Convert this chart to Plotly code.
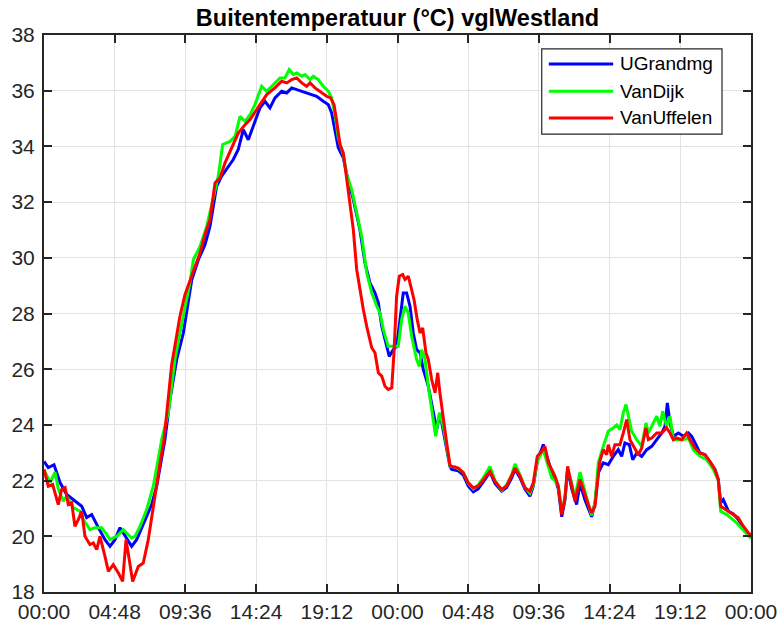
import plotly.graph_objects as go

# ---- data (time in hours since start, temperature in °C) ----
series_names = ["UGrandmg", "VanDijk", "VanUffelen"]
series_colors = ["#0000ff", "#00ff00", "#ff0000"]

hours_ugrandmg = [
    0.00, 0.29, 0.68, 1.09, 1.54, 1.97, 2.56, 2.90, 3.24, 3.69,
    4.14, 4.48, 4.82, 5.16, 5.50, 5.95, 6.29, 6.72, 7.31, 7.65,
    7.99, 8.21, 8.55, 9.01, 9.46, 9.69, 10.03, 10.48, 10.93, 11.27,
    11.72, 12.06, 12.51, 12.85, 13.19, 13.53, 13.87, 14.21, 14.66, 15.00,
    15.34, 15.68, 16.14, 16.48, 16.82, 17.16, 17.50, 17.83, 18.17, 18.51,
    18.96, 19.30, 19.53, 19.76, 19.98, 20.32, 20.55, 21.00, 21.45, 21.79,
    22.13, 22.47, 22.70, 22.93, 23.15, 23.44, 23.71, 23.94, 24.17, 24.39,
    24.62, 24.85, 25.07, 25.30, 25.53, 25.75, 26.09, 26.43, 26.66, 26.88,
    27.22, 27.56, 27.68, 28.13, 28.47, 28.81, 29.15, 29.48, 29.82, 30.28,
    30.62, 31.07, 31.41, 31.75, 31.98, 32.32, 32.65, 32.99, 33.22, 33.49,
    33.90, 34.24, 34.47, 34.69, 34.92, 35.15, 35.37, 35.55, 35.83, 36.16,
    36.39, 36.73, 36.95, 37.18, 37.41, 37.63, 37.97, 38.31, 38.65, 38.99,
    39.22, 39.44, 39.74, 39.97, 40.24, 40.58, 40.92, 41.26, 41.60, 41.94,
    42.16, 42.32, 42.50, 42.73, 43.07, 43.41, 43.75, 43.98, 44.32, 44.54,
    44.88, 45.21, 45.55, 45.78, 45.94, 46.12, 46.47, 46.80, 47.14, 47.48,
    47.93, 48.00,
]
temp_ugrandmg = [
    22.69, 22.47, 22.57, 21.93, 21.5, 21.32, 21.08, 20.67, 20.78, 20.31,
    19.88, 19.64, 19.88, 20.31, 20.0, 19.64, 19.88, 20.42, 21.14, 21.8,
    22.75, 23.47, 24.9, 26.35, 27.3, 28.14, 29.2, 29.93, 30.47, 31.13,
    32.57, 32.93, 33.29, 33.53, 33.89, 34.6, 34.24, 34.72, 35.38, 35.62,
    35.38, 35.74, 35.98, 35.92, 36.1, 36.04, 35.98, 35.92, 35.86, 35.8,
    35.62, 35.5, 35.2, 34.54, 33.95, 33.59, 33.0, 32.09, 31.01, 29.82,
    29.1, 28.74, 28.38, 27.54, 27.06, 26.46, 26.7, 26.82, 27.78, 28.74,
    28.74, 28.26, 27.3, 26.7, 26.59, 25.99, 25.39, 24.43, 23.83, 24.43,
    23.47, 22.51, 22.4, 22.35, 22.2, 21.8, 21.6, 21.7, 21.95, 22.3,
    21.9, 21.62, 21.75, 22.1, 22.4, 22.1, 21.7, 21.44, 21.8, 22.7,
    23.3, 22.7, 22.3, 22.1, 21.7, 20.7, 21.3, 22.4, 21.7, 21.14,
    21.9, 21.3, 21.0, 20.7, 21.2, 22.28, 22.64, 22.57, 22.87, 23.11,
    22.87, 23.35, 23.29, 22.75, 22.99, 22.87, 23.11, 23.23, 23.47, 23.71,
    23.95, 24.79, 24.07, 23.59, 23.71, 23.59, 23.71, 23.59, 23.23, 22.99,
    22.93, 22.69, 22.4, 22.04, 21.2, 21.32, 20.9, 20.8, 20.6, 20.3,
    20.0, 19.97,
]

hours_vandijk = [
    0.00, 0.41, 0.75, 0.97, 1.31, 1.54, 1.99, 2.44, 2.67, 3.12,
    3.46, 3.92, 4.26, 4.48, 4.94, 5.38, 5.95, 6.18, 6.52, 6.97,
    7.42, 7.76, 7.99, 8.44, 8.89, 9.23, 9.57, 9.91, 10.14, 10.59,
    11.05, 11.49, 11.83, 12.13, 12.40, 12.63, 12.97, 13.31, 13.65, 13.99,
    14.32, 14.78, 15.12, 15.57, 16.02, 16.36, 16.65, 16.93, 17.16, 17.50,
    17.72, 18.06, 18.28, 18.62, 18.96, 19.30, 19.53, 19.76, 19.98, 20.32,
    20.55, 20.89, 21.23, 21.57, 21.91, 22.25, 22.59, 22.81, 23.04, 23.37,
    23.71, 24.05, 24.28, 24.51, 24.73, 24.96, 25.30, 25.48, 25.64, 25.87,
    26.09, 26.32, 26.59, 26.84, 27.11, 27.34, 27.56, 27.90, 28.47, 28.81,
    29.15, 29.48, 29.82, 30.28, 30.62, 31.07, 31.41, 31.75, 31.98, 32.32,
    32.65, 32.99, 33.22, 33.49, 33.90, 34.24, 34.47, 34.69, 34.92, 35.15,
    35.37, 35.55, 35.83, 36.05, 36.39, 36.73, 36.95, 37.18, 37.41, 37.63,
    37.97, 38.31, 38.65, 38.88, 39.10, 39.33, 39.51, 39.67, 39.90, 40.24,
    40.58, 40.87, 41.03, 41.37, 41.60, 41.82, 42.00, 42.27, 42.50, 42.73,
    43.07, 43.41, 43.75, 44.08, 44.54, 44.99, 45.44, 45.78, 45.94, 46.35,
    47.03, 47.71, 47.93, 48.00,
]
temp_vandijk = [
    22.4, 21.93, 22.3, 21.7, 21.26, 21.44, 21.03, 20.9, 20.6, 20.24,
    20.31, 20.31, 20.06, 19.88, 20.0, 20.24, 19.94, 20.0, 20.36, 20.96,
    21.8, 22.75, 23.47, 24.43, 26.35, 27.3, 28.14, 29.1, 29.93, 30.41,
    31.13, 32.09, 32.93, 34.07, 34.13, 34.18, 34.36, 35.08, 34.9, 35.14,
    35.5, 36.16, 35.98, 36.22, 36.46, 36.46, 36.76, 36.58, 36.64, 36.52,
    36.58, 36.4, 36.52, 36.4, 36.16, 35.98, 35.74, 35.14, 34.3, 33.7,
    33.0, 32.45, 31.61, 30.77, 29.46, 28.74, 28.26, 28.02, 27.42, 26.82,
    26.82, 26.82, 27.78, 28.26, 28.02, 27.18, 26.35, 26.1, 26.7, 26.35,
    25.39, 24.55, 23.59, 24.43, 23.95, 23.23, 22.51, 22.5, 22.3, 21.9,
    21.7, 21.85, 22.1, 22.51, 22.0, 21.65, 21.85, 22.2, 22.6, 22.2,
    21.75, 21.55, 21.85, 22.7, 23.1, 22.5, 22.1, 22.0, 21.8, 20.9,
    21.4, 22.4, 21.9, 21.4, 22.3, 21.6, 21.2, 20.75, 21.2, 22.64,
    23.23, 23.77, 23.89, 24.0, 23.83, 24.43, 24.73, 24.31, 23.77, 23.47,
    23.23, 24.07, 23.71, 24.07, 24.31, 23.95, 24.49, 23.95, 24.31, 23.47,
    23.47, 23.47, 23.53, 23.11, 22.87, 22.75, 22.4, 22.0, 20.9, 20.78,
    20.48, 20.06, 19.94, 19.92,
]

hours_vanuffelen = [
    0.00, 0.29, 0.59, 0.97, 1.20, 1.43, 1.65, 1.88, 2.10, 2.33,
    2.56, 2.78, 3.12, 3.35, 3.58, 3.80, 4.14, 4.37, 4.70, 5.04,
    5.34, 5.57, 5.79, 6.02, 6.40, 6.74, 7.08, 7.42, 7.65, 7.88,
    8.15, 8.67, 8.96, 9.23, 9.57, 9.91, 10.25, 10.59, 10.93, 11.27,
    11.61, 11.95, 12.29, 12.74, 13.19, 13.65, 13.99, 14.44, 14.66, 15.12,
    15.68, 16.14, 16.48, 16.82, 17.16, 17.50, 17.83, 18.06, 18.40, 18.74,
    19.19, 19.46, 19.69, 19.87, 20.10, 20.32, 20.55, 20.77, 21.00, 21.23,
    21.45, 21.68, 21.91, 22.25, 22.47, 22.70, 22.93, 23.15, 23.37, 23.61,
    23.76, 23.94, 24.12, 24.35, 24.51, 24.73, 24.90, 25.12, 25.34, 25.53,
    25.71, 25.93, 26.09, 26.32, 26.55, 26.73, 26.88, 27.11, 27.34, 27.56,
    27.68, 28.13, 28.47, 28.81, 29.15, 29.48, 29.82, 30.28, 30.62, 31.07,
    31.41, 31.75, 31.98, 32.32, 32.65, 32.99, 33.22, 33.49, 33.79, 34.01,
    34.24, 34.47, 34.69, 34.92, 35.15, 35.37, 35.55, 35.83, 36.05, 36.39,
    36.73, 36.95, 37.18, 37.41, 37.63, 37.74, 37.97, 38.20, 38.31, 38.54,
    38.76, 39.10, 39.33, 39.56, 39.78, 40.01, 40.35, 40.58, 40.87, 41.03,
    41.26, 41.60, 41.94, 42.27, 42.50, 42.73, 42.95, 43.29, 43.63, 43.86,
    44.20, 44.54, 44.88, 45.21, 45.55, 45.78, 45.94, 46.12, 46.47, 46.80,
    47.14, 47.48, 47.82, 48.00,
]
temp_vanuffelen = [
    22.4, 21.8, 21.86, 21.14, 21.68, 21.75, 21.14, 21.2, 20.36, 20.6,
    20.9, 20.0, 19.7, 19.76, 19.52, 20.0, 19.28, 18.74, 18.98, 18.69,
    18.38, 19.88, 19.16, 18.38, 18.92, 19.04, 19.88, 21.08, 21.93, 22.63,
    23.47, 26.17, 27.06, 27.9, 28.68, 29.2, 29.7, 30.17, 30.83, 31.37,
    32.69, 32.87, 33.41, 33.95, 34.48, 34.78, 34.96, 35.32, 35.5, 35.86,
    36.1, 36.34, 36.28, 36.4, 36.46, 36.28, 36.16, 36.28, 36.1, 35.98,
    35.8, 35.74, 35.5, 34.9, 34.06, 33.77, 32.9, 31.97, 31.01, 29.58,
    28.86, 28.14, 27.54, 26.77, 26.59, 25.87, 25.75, 25.39, 25.27, 25.33,
    26.59, 28.62, 29.34, 29.4, 29.22, 29.34, 28.98, 28.5, 27.78, 27.3,
    27.48, 26.59, 26.35, 25.63, 25.15, 25.87, 25.15, 24.19, 23.35, 22.55,
    22.51, 22.45, 22.28, 21.92, 21.74, 21.8, 22.04, 22.33, 21.97, 21.68,
    21.8, 22.16, 22.45, 22.16, 21.74, 21.62, 21.92, 22.87, 23.05, 23.23,
    22.64, 22.4, 22.16, 21.8, 20.78, 21.38, 22.51, 21.8, 21.26, 22.04,
    21.44, 21.14, 20.84, 21.08, 22.2, 22.69, 23.11, 22.93, 23.29, 22.87,
    23.29, 23.29, 23.71, 24.19, 23.47, 23.23, 22.93, 23.17, 23.89, 23.47,
    23.53, 23.71, 23.71, 23.89, 23.71, 23.47, 23.53, 23.47, 23.71, 23.47,
    23.17, 22.99, 22.93, 22.69, 22.4, 22.04, 21.08, 21.02, 20.9, 20.78,
    20.66, 20.36, 20.12, 20.05,
]

x_tick_hours = [0, 4.8, 9.6, 14.4, 19.2, 24, 28.8, 33.6, 38.4, 43.2, 48]
x_tick_labels = ["00:00", "04:48", "09:36", "14:24", "19:12", "00:00",
                 "04:48", "09:36", "14:24", "19:12", "00:00"]
y_ticks = [18, 20, 22, 24, 26, 28, 30, 32, 34, 36, 38]

all_hours = [hours_ugrandmg, hours_vandijk, hours_vanuffelen]
all_temps = [temp_ugrandmg, temp_vandijk, temp_vanuffelen]
for h, t in zip(all_hours, all_temps):
    assert len(h) == len(t), (len(h), len(t))

FONT = "Liberation Sans, Arial, Helvetica, sans-serif"
AX = "#262626"

fig = go.Figure()
for name, color, h, t in zip(series_names, series_colors, all_hours, all_temps):
    fig.add_trace(go.Scatter(x=h, y=t, mode="lines", name=name,
                             line=dict(color=color, width=3)))

axis_common = dict(
    showline=True, linewidth=2, linecolor=AX, mirror="ticks",
    ticks="inside", ticklen=8, tickwidth=2, tickcolor=AX,
    showgrid=True, gridcolor="#e2e2e2", gridwidth=1, zeroline=False,
    automargin=False,
    tickfont=dict(family=FONT, size=21, color=AX),
)

fig.update_xaxes(range=[0, 48], tickmode="array", tickvals=x_tick_hours,
                 ticktext=x_tick_labels, **axis_common)
fig.update_yaxes(range=[18, 38], tickmode="array", tickvals=y_ticks,
                 ticklabelstandoff=3, **axis_common)

# MATLAB-style legend box (top right)
lx0, lx1, ly0, ly1 = 0.704, 0.959, 0.822, 0.975
shapes = [dict(type="rect", xref="paper", yref="paper", x0=lx0, x1=lx1,
               y0=ly0, y1=ly1, line=dict(color=AX, width=1.2),
               fillcolor="white", layer="above")]
annotations = []
entry_y = [0.948, 0.899, 0.851]
for name, color, yy in zip(series_names, series_colors, entry_y):
    shapes.append(dict(type="line", xref="paper", yref="paper",
                       x0=0.714, x1=0.805, y0=yy, y1=yy,
                       line=dict(color=color, width=3), layer="above"))
    annotations.append(dict(xref="paper", yref="paper", x=0.812, y=yy,
                            text=name, showarrow=False, xanchor="left",
                            yanchor="middle",
                            font=dict(family=FONT, size=19, color="#000000")))

fig.update_layout(
    width=779, height=627,
    margin=dict(l=44, r=28, t=35, b=35),
    paper_bgcolor="white", plot_bgcolor="white",
    showlegend=False,
    font=dict(family=FONT, size=20, color=AX),
    title=dict(text="<b>Buitentemperatuur (°C) vglWestland</b>",
               x=0.5, xref="paper", xanchor="center",
               y=1 - 18 / 627, yref="container", yanchor="middle",
               font=dict(family=FONT, size=23.5, color="#000000")),
    shapes=shapes, annotations=annotations,
)

# remove the browser's default 8px page margin so the figure fills the window
fig.write_html("out.html",
               config={"displayModeBar": False},
               post_script="document.body.style.margin='0';")
